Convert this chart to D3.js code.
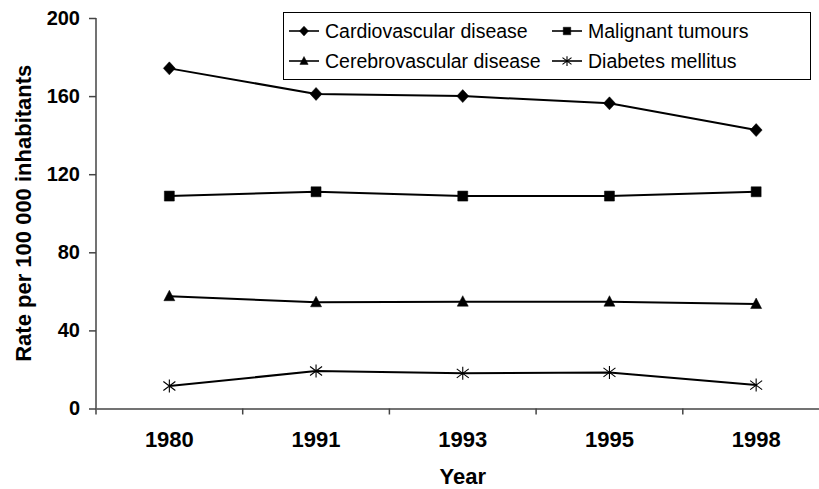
<!DOCTYPE html>
<html>
<head>
<meta charset="utf-8">
<script src="https://cdn.jsdelivr.net/npm/d3@7"></script>
<style>
  body { margin: 0; background: #fff; }
  svg { display: block; font-family: "Liberation Sans", Arial, sans-serif; }
</style>
</head>
<body>
<div id="chart"></div>
<script>
// chart data
const years = ["1980", "1991", "1993", "1995", "1998"]
const cardiovascular = [174.2, 161.1, 160.0, 156.3, 142.6]
const malignant = [108.8, 111.0, 108.8, 108.8, 111.0]
const cerebrovascular = [57.5, 54.4, 54.7, 54.7, 53.5]
const diabetes = [11.5, 19.2, 18.0, 18.5, 12.0]
const yTicks = [0, 40, 80, 120, 160, 200]

const series = [
    {name: "Cardiovascular disease", values: cardiovascular, symbol: "diamond"},
    {name: "Malignant tumours", values: malignant, symbol: "square"},
    {name: "Cerebrovascular disease", values: cerebrovascular, symbol: "triangle"},
    {name: "Diabetes mellitus", values: diabetes, symbol: "asterisk"}
]

const width = 819, height = 489
const margin = {top: 18, left: 96}
const innerW = 733.5, innerH = 390.5

const svg = d3.select("#chart").append("svg")
    .attr("width", width)
    .attr("height", height)

const x = d3.scaleBand().domain(years).range([margin.left, margin.left + innerW])
const y = d3.scaleLinear().domain([0, 200]).range([margin.top + innerH, margin.top])
const cx = d => x(d) + x.bandwidth() / 2

// marker shapes, k scales them down for the legend
function markerPath(type, k){
    const p = d3.path()
    if (type == "diamond") {
        p.moveTo(0, -6.5 * k); p.lineTo(6 * k, 0); p.lineTo(0, 6.5 * k); p.lineTo(-6 * k, 0); p.closePath()
    } else if (type == "square") {
        p.rect(-5 * k, -5 * k, 10 * k, 10 * k)
    } else if (type == "triangle") {
        p.moveTo(0, -6 * k); p.lineTo(5.5 * k, 4.5 * k); p.lineTo(-5.5 * k, 4.5 * k); p.closePath()
    } else {
        p.moveTo(0, -6.5 * k); p.lineTo(0, 6.5 * k)
        p.moveTo(-6 * k, -4.5 * k); p.lineTo(6 * k, 4.5 * k)
        p.moveTo(-6 * k, 4.5 * k); p.lineTo(6 * k, -4.5 * k)
    }
    return p.toString()
}

function drawMarker(g, type, k){
    g.append("path")
        .attr("d", markerPath(type, k))
        .attr("fill", type == "asterisk" ? "none" : "#000")
        .attr("stroke", "#000")
        .attr("stroke-width", type == "asterisk" ? 1.1 : 0.5)
}

// y axis
const yAxis = svg.append("g")
    .attr("transform", "translate(" + margin.left + ",0)")
    .call(d3.axisLeft(y).tickValues(yTicks).tickSize(7).tickPadding(9))
yAxis.select(".domain").attr("stroke", "#444").attr("stroke-width", 1.5)
    .attr("d", "M0," + y(200) + "V" + (y(0) + 6))
yAxis.selectAll(".tick line").attr("stroke", "#444").attr("stroke-width", 1.5)
yAxis.selectAll("text")
    .attr("fill", "#000")
    .style("font-size", "20px")
    .style("font-weight", "bold")

// x axis
const xAxis = svg.append("g")
    .attr("transform", "translate(0," + y(0) + ")")
    .call(d3.axisBottom(x).tickSize(0).tickPadding(23))
xAxis.select(".domain").attr("stroke", "#444").attr("stroke-width", 1.5)
xAxis.selectAll("text")
    .attr("fill", "#000")
    .style("font-size", "22px")
    .style("font-weight", "bold")
xAxis.selectAll(".bound")
    .data(years.slice(1))
    .enter()
    .append("line")
    .attr("class", "bound")
    .attr("x1", d => x(d)).attr("x2", d => x(d))
    .attr("y1", 0).attr("y2", 6)
    .attr("stroke", "#444")
    .attr("stroke-width", 1.5)

// axis titles
svg.append("text")
    .attr("x", cx("1993"))
    .attr("y", 484)
    .attr("text-anchor", "middle")
    .style("font-size", "22px")
    .style("font-weight", "bold")
    .text("Year")

svg.append("text")
    .attr("transform", "translate(31," + (margin.top + innerH / 2) + ") rotate(-90)")
    .attr("text-anchor", "middle")
    .style("font-size", "22px")
    .style("font-weight", "bold")
    .text("Rate per 100 000 inhabitants")

// lines and markers
const line = d3.line()
    .x((d, i) => cx(years[i]))
    .y(d => y(d))

series.forEach(s => {
    svg.append("path")
        .attr("d", line(s.values))
        .attr("fill", "none")
        .attr("stroke", "#000")
        .attr("stroke-width", 2)

    s.values.forEach((v, i) => {
        const g = svg.append("g")
            .attr("transform", "translate(" + cx(years[i]) + "," + y(v) + ")")
        drawMarker(g, s.symbol, 1)
    })
})

// legend
const legend = svg.append("g")
legend.append("rect")
    .attr("x", 283.5).attr("y", 12.5)
    .attr("width", 527).attr("height", 67)
    .attr("fill", "#fff")
    .attr("stroke", "#000")
    .attr("stroke-width", 1)

const legendCols = [{line: [289, 319], text: 325}, {line: [552, 582], text: 588}]
const legendRows = [31, 61]

series.forEach((s, i) => {
    const col = legendCols[i % 2]
    const rowY = legendRows[Math.floor(i / 2)]
    const item = legend.append("g")
    item.append("line")
        .attr("x1", col.line[0]).attr("x2", col.line[1])
        .attr("y1", rowY).attr("y2", rowY)
        .attr("stroke", "#000")
        .attr("stroke-width", 1.6)
    const m = item.append("g")
        .attr("transform", "translate(" + (col.line[0] + col.line[1]) / 2 + "," + rowY + ")")
    drawMarker(m, s.symbol, 0.75)
    item.append("text")
        .attr("x", col.text)
        .attr("y", rowY)
        .attr("dy", "0.35em")
        .style("font-size", "19.5px")
        .text(s.name)
})
</script>
</body>
</html>
